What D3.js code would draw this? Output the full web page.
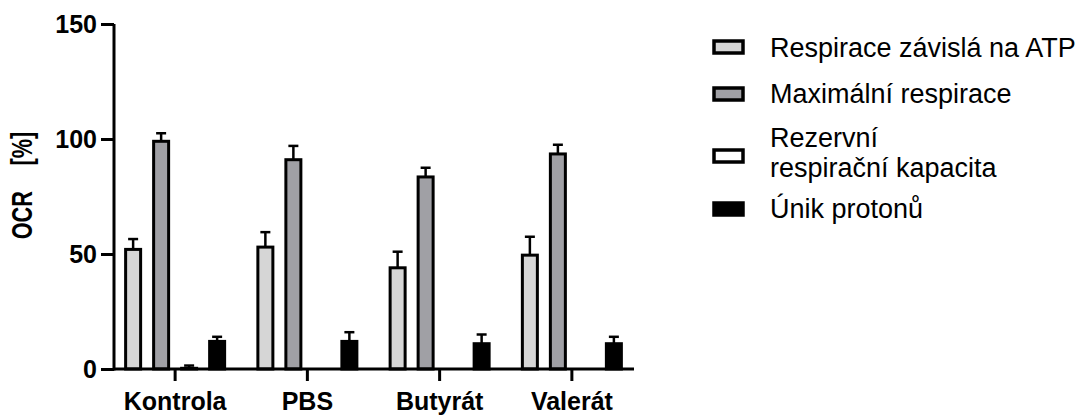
<!DOCTYPE html>
<html>
<head>
<meta charset="utf-8">
<script src="https://cdn.jsdelivr.net/npm/d3@7"></script>
<style>
  html, body { margin: 0; padding: 0; background: #fff; }
  svg { display: block; font-family: "Liberation Sans", Arial, sans-serif; }
</style>
</head>
<body>
<svg id="chart" width="1090" height="415"></svg>
<script>
// Groups (x axis)
const groups = ["Kontrola", "PBS", "Butyrát", "Valerát"];

// Series names (legend)
const seriesNames = [
  "Respirace závislá na ATP",
  "Maximální respirace",
  "Rezervní respirační kapacita",
  "Únik protonů"
];

// Means per group, OCR [%]
const atpLinked   = [52, 53, 44, 49.5];
const maxResp     = [99, 91, 83.5, 93.5];
const spareCap    = [0.3, 0, 0, 0];
const protonLeak  = [12, 12, 11, 11];

// Upper error (SD) per group
const atpLinkedErr  = [4.5, 6.5, 7, 8];
const maxRespErr    = [3.5, 6, 4, 4];
const spareCapErr   = [1.2, 0, 0, 0];
const protonLeakErr = [2, 4, 4, 3];

// Y axis ticks
const yTicks = [0, 50, 100, 150];

const seriesFill = ["#d6d6d6", "#a0a0a5", "#ffffff", "#000000"];

const values = [atpLinked, maxResp, spareCap, protonLeak];
const errors = [atpLinkedErr, maxRespErr, spareCapErr, protonLeakErr];

const svg = d3.select("#chart");

const y = d3.scaleLinear().domain([0, 150]).range([369, 24]);
const x0 = d3.scaleBand().domain(groups).range([109, 638]).padding(0);
const x1 = d3.scaleBand().domain(d3.range(4))
  .range([-56, 56]).paddingInner(0.4643).paddingOuter(0.232);

// Bars
const data = [];
groups.forEach((g, gi) => {
  values.forEach((arr, si) => {
    data.push({ g, si, v: arr[gi], e: errors[si][gi] });
  });
});

const bars = svg.append("g");
const cx = d => x0(d.g) + x0.bandwidth() / 2 + x1(d.si) + x1.bandwidth() / 2;

bars.selectAll("line.err")
  .data(data.filter(d => d.e > 0))
  .join("line")
  .attr("class", "err")
  .attr("x1", cx).attr("x2", cx)
  .attr("y1", d => y(d.v)).attr("y2", d => y(d.v + d.e))
  .attr("stroke", "#000").attr("stroke-width", 2.5);

bars.selectAll("line.cap")
  .data(data.filter(d => d.e > 0))
  .join("line")
  .attr("class", "cap")
  .attr("x1", d => cx(d) - 5).attr("x2", d => cx(d) + 5)
  .attr("y1", d => y(d.v + d.e)).attr("y2", d => y(d.v + d.e))
  .attr("stroke", "#000").attr("stroke-width", 2.5);

bars.selectAll("rect")
  .data(data.filter(d => d.v > 0))
  .join("rect")
  .attr("x", d => cx(d) - x1.bandwidth() / 2)
  .attr("width", x1.bandwidth())
  .attr("y", d => y(d.v))
  .attr("height", d => y(0) - y(d.v))
  .attr("fill", d => seriesFill[d.si])
  .attr("stroke", "#000")
  .attr("stroke-width", 3);

// Y axis
const yAxis = svg.append("g")
  .attr("transform", "translate(114,0)")
  .call(d3.axisLeft(y).tickValues(yTicks).tickSize(13).tickSizeOuter(0).tickPadding(4));
yAxis.select(".domain").attr("stroke-width", 3).attr("d", `M0,${y(150)}V${y(0) + 1.5}`);
yAxis.selectAll(".tick line").attr("stroke-width", 3);
yAxis.selectAll(".tick text")
  .attr("font-size", 25).attr("font-weight", "bold")
  .attr("font-family", "'Liberation Sans', Arial, sans-serif").attr("fill", "#000");

// X axis
const xAxis = svg.append("g")
  .attr("transform", `translate(0,${y(0)})`)
  .call(d3.axisBottom(x0).tickSize(12).tickSizeOuter(0).tickPadding(11));
xAxis.select(".domain").attr("stroke-width", 3).attr("d", "M114,0H634");
xAxis.selectAll(".tick line").attr("stroke-width", 3);
xAxis.selectAll(".tick text")
  .attr("font-size", 25).attr("font-weight", "bold")
  .attr("font-family", "'Liberation Sans', Arial, sans-serif").attr("fill", "#000");

// Y axis title
svg.append("text")
  .attr("transform", "translate(32,185.5) rotate(-90) scale(0.75,1)")
  .attr("text-anchor", "middle")
  .attr("font-size", 29).attr("font-weight", "bold")
  .style("word-spacing", "26px")
  .text("OCR [%]");

// Legend
const legend = svg.append("g");
const swatchCy = [47, 94, 156, 209];
const textLines = [["Respirace závislá na ATP"], ["Maximální respirace"],
                   ["Rezervní", "respirační kapacita"], ["Únik protonů"]];
const baselines = [57, 103, 147, 218];

seriesNames.forEach((name, i) => {
  legend.append("rect")
    .attr("x", 714).attr("y", swatchCy[i] - 6)
    .attr("width", 29).attr("height", 12)
    .attr("fill", seriesFill[i]).attr("stroke", "#000").attr("stroke-width", 3.5);
  const t = legend.append("text")
    .attr("x", 770).attr("y", baselines[i])
    .attr("font-size", 27).attr("fill", "#000");
  textLines[i].forEach((line, li) => {
    t.append("tspan")
      .attr("x", 770)
      .attr("dy", li === 0 ? 0 : 30)
      .text(line);
  });
});
</script>
</body>
</html>
